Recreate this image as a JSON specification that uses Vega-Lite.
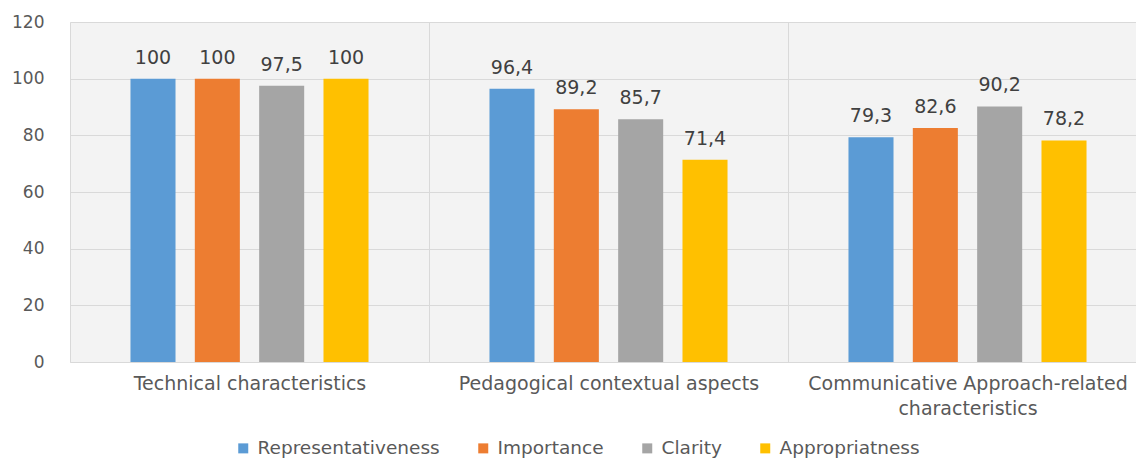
{
  "$schema": "https://vega.github.io/schema/vega-lite/v6.json",
  "width": 1066,
  "height": 340,
  "autosize": "none",
  "padding": {"left": 70, "top": 22, "right": 0, "bottom": 98},
  "background": "white",
  "config": {
    "font": "DejaVu Sans",
    "view": {"stroke": null, "fill": "#f3f3f3"},
    "locale": {"number": {"decimal": ",", "thousands": ".", "grouping": [3], "currency": ["", " €"]}}
  },
  "data": {
    "values": [
      {"category": "Technical characteristics", "series": "Representativeness", "value": 100},
      {"category": "Technical characteristics", "series": "Importance", "value": 100},
      {"category": "Technical characteristics", "series": "Clarity", "value": 97.5},
      {"category": "Technical characteristics", "series": "Appropriatness", "value": 100},
      {"category": "Pedagogical contextual aspects", "series": "Representativeness", "value": 96.4},
      {"category": "Pedagogical contextual aspects", "series": "Importance", "value": 89.2},
      {"category": "Pedagogical contextual aspects", "series": "Clarity", "value": 85.7},
      {"category": "Pedagogical contextual aspects", "series": "Appropriatness", "value": 71.4},
      {"category": "Communicative Approach-related characteristics", "series": "Representativeness", "value": 79.3},
      {"category": "Communicative Approach-related characteristics", "series": "Importance", "value": 82.6},
      {"category": "Communicative Approach-related characteristics", "series": "Clarity", "value": 90.2},
      {"category": "Communicative Approach-related characteristics", "series": "Appropriatness", "value": 78.2}
    ]
  },
  "encoding": {
    "x": {
      "field": "category",
      "type": "nominal",
      "sort": ["Technical characteristics", "Pedagogical contextual aspects", "Communicative Approach-related characteristics"],
      "scale": {"range": [0, 1077], "paddingInner": 0, "paddingOuter": 0},
      "axis": {
        "title": null,
        "labelAngle": 0,
        "tickBand": "extent",
        "ticks": false,
        "grid": true,
        "gridColor": "#d9d9d9",
        "domain": true,
        "domainColor": "#d9d9d9",
        "labelFontSize": 19,
        "labelColor": "#595959",
        "labelPadding": 12,
        "labelLineHeight": 25,
        "labelLimit": 0,
        "labelExpr": "datum.value == 'Communicative Approach-related characteristics' ? ['Communicative Approach-related', 'characteristics'] : datum.value"
      }
    },
    "xOffset": {
      "field": "series",
      "type": "nominal",
      "sort": ["Representativeness", "Importance", "Clarity", "Appropriatness"],
      "scale": {"paddingInner": 0.3, "paddingOuter": 0.94}
    },
    "y": {
      "field": "value",
      "type": "quantitative",
      "scale": {"domain": [0, 120]},
      "axis": {
        "title": null,
        "values": [0, 20, 40, 60, 80, 100, 120],
        "grid": true,
        "gridColor": "#d9d9d9",
        "domain": false,
        "ticks": false,
        "labelPadding": 26,
        "labelFontSize": 17,
        "labelColor": "#595959"
      }
    }
  },
  "layer": [
    {
      "mark": {"type": "bar"},
      "encoding": {
        "color": {
          "field": "series",
          "type": "nominal",
          "sort": ["Representativeness", "Importance", "Clarity", "Appropriatness"],
          "scale": {
            "domain": ["Representativeness", "Importance", "Clarity", "Appropriatness"],
            "range": ["#5B9BD5", "#ED7D31", "#A5A5A5", "#FFC000"]
          },
          "legend": {
            "title": null,
            "orient": "none",
            "direction": "horizontal",
            "legendX": 164,
            "legendY": 417,
            "symbolType": "square",
            "symbolSize": 100,
            "symbolStrokeWidth": 0,
            "labelFontSize": 18.5,
            "labelLimit": 0,
            "labelColor": "#595959",
            "labelOffset": 5,
            "columnPadding": 34
          }
        }
      }
    },
    {
      "mark": {"type": "text", "baseline": "alphabetic", "dy": -15, "fontSize": 19, "color": "#404040"},
      "encoding": {
        "text": {"field": "value", "type": "quantitative", "format": ".1~f"}
      }
    }
  ]
}
